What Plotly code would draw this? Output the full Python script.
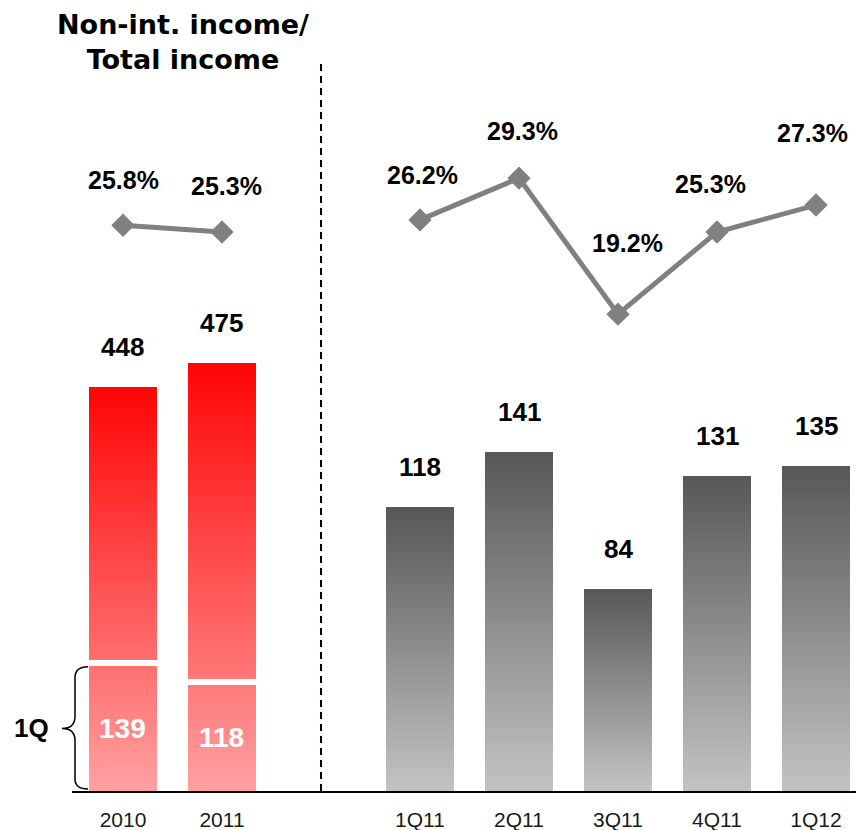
import plotly.graph_objects as go

# ---------------- data ----------------
annual_labels = ["2010", "2011"]
annual_total = [448, 475]
annual_1q = [139, 118]
annual_ratio = [25.8, 25.3]

quarter_labels = ["1Q11", "2Q11", "3Q11", "4Q11", "1Q12"]
quarter_income = [118, 141, 84, 131, 135]
quarter_ratio = [26.2, 29.3, 19.2, 25.3, 27.3]

title_text = "Non-int. income/<br>Total income"
bracket_text = "1Q"

# ---------------- layout helpers ----------------
FONT = "Liberation Sans, Arial, sans-serif"
ax_annual = list(range(len(annual_labels)))                       # slots 0,1
ax_quarter = [len(annual_labels) + 1 + i for i in range(len(quarter_labels))]  # slots 3..7
sep_x = len(annual_labels)                                        # empty slot 2

L, R, T, B = 72, 0, 60, 39
W, H = 856, 830
plot_h = H - T - B
annual_max = plot_h / 0.901
quarter_max = plot_h / 2.405
ratio_range = [-16.2, 38.07]
BAR_W = 0.68


def lerp(c1, c2, t):
    return "rgb(%d,%d,%d)" % tuple(round(a + (b - a) * t) for a, b in zip(c1, c2))


N = 70
red_top, red_bot = (255, 6, 6), (255, 162, 162)
gray_top, gray_bot = (88, 88, 88), (196, 196, 196)

fig = go.Figure()

# gradient annual bars (nested overlay bars)
for k in range(N):
    frac = 1 - k / N
    fig.add_trace(go.Bar(
        x=ax_annual, y=[v * frac for v in annual_total], width=BAR_W,
        marker=dict(color=lerp(red_bot, red_top, frac), line=dict(width=0)),
        yaxis="y", hoverinfo="skip", showlegend=False))
# white separator above 1Q part
fig.add_trace(go.Bar(
    x=ax_annual, y=[6.5] * len(annual_1q), base=annual_1q, width=BAR_W + 0.02,
    marker=dict(color="white", line=dict(width=0)),
    yaxis="y", hoverinfo="skip", showlegend=False))

# gradient quarterly bars
for k in range(N):
    frac = 1 - k / N
    fig.add_trace(go.Bar(
        x=ax_quarter, y=[v * frac for v in quarter_income], width=BAR_W,
        marker=dict(color=lerp(gray_bot, gray_top, frac), line=dict(width=0)),
        yaxis="y2", hoverinfo="skip", showlegend=False))

# ratio lines
line_style = dict(color="#808080", width=5)
marker_style = dict(symbol="diamond", size=18, color="#808080")
fig.add_trace(go.Scatter(x=ax_annual, y=annual_ratio, mode="lines+markers",
                         line=line_style, marker=marker_style, yaxis="y3",
                         showlegend=False, hoverinfo="skip"))
fig.add_trace(go.Scatter(x=ax_quarter, y=quarter_ratio, mode="lines+markers",
                         line=line_style, marker=marker_style, yaxis="y3",
                         showlegend=False, hoverinfo="skip"))

annotations = []
val_font = dict(family=FONT, size=26, color="black")
pct_font = dict(family=FONT, size=25, color="black")
# bar value labels
for x, v in zip(ax_annual, annual_total):
    annotations.append(dict(x=x, y=v, xref="x", yref="y", text=f"<b>{v}</b>",
                            showarrow=False, font=val_font, yanchor="middle", yshift=40))
for x, v in zip(ax_quarter, quarter_income):
    annotations.append(dict(x=x, y=v, xref="x", yref="y2", text=f"<b>{v}</b>",
                            showarrow=False, font=val_font, yanchor="middle", yshift=40))
# 1Q labels inside annual bars
for x, v in zip(ax_annual, annual_1q):
    annotations.append(dict(x=x, y=v / 2, xref="x", yref="y", text=f"<b>{v}</b>",
                            showarrow=False, yanchor="middle",
                            font=dict(family=FONT, size=28, color="white")))
# ratio labels
pct_shift = [(1, 45), (5, 46)]
pct_shift_q = [(3, 45), (3, 47), (9, 71), (-7, 48), (-4, 72)]
for (x, v), (dx, dy) in zip(zip(ax_annual, annual_ratio), pct_shift):
    annotations.append(dict(x=x, y=v, xref="x", yref="y3", text=f"<b>{v:.1f}%</b>",
                            showarrow=False, font=pct_font, yanchor="middle",
                            xshift=dx, yshift=dy))
for (x, v), (dx, dy) in zip(zip(ax_quarter, quarter_ratio), pct_shift_q):
    annotations.append(dict(x=x, y=v, xref="x", yref="y3", text=f"<b>{v:.1f}%</b>",
                            showarrow=False, font=pct_font, yanchor="middle",
                            xshift=dx, yshift=dy))
# title
annotations.append(dict(x=(183 - L) / (W - L - R), y=(H - B - 41.5) / plot_h,
                        xref="paper", yref="paper", text=f"<b>{title_text}</b>",
                        showarrow=False, xanchor="center", yanchor="middle",
                        font=dict(family="DejaVu Sans, " + FONT, size=27, color="black")))
# 1Q bracket label
annotations.append(dict(x=(31 - L) / (W - L - R), y=annual_1q[0] / 2 / annual_max,
                        xref="paper", yref="paper", text=f"<b>{bracket_text}</b>",
                        showarrow=False, xanchor="center", yanchor="middle",
                        font=dict(family=FONT, size=26, color="black")))

# brace shape
pw = W - L - R


def px(p):
    return (p - L) / pw


top = annual_1q[0] / annual_max
bot = 0.0
mid = (top + bot) / 2
d = 12 / plot_h
brace = (f"M {px(88)},{top - 1/plot_h} "
         f"Q {px(75)},{top - 1/plot_h} {px(75)},{top - d} "
         f"L {px(75)},{mid + d} "
         f"Q {px(75)},{mid} {px(62)},{mid} "
         f"Q {px(75)},{mid} {px(75)},{mid - d} "
         f"L {px(75)},{bot + d} "
         f"Q {px(75)},{bot + 2/plot_h} {px(88)},{bot + 2/plot_h}")
shapes = [
    dict(type="path", xref="paper", yref="paper", path=brace,
         line=dict(color="black", width=1.5)),
    dict(type="line", xref="x", yref="paper", x0=sep_x, x1=sep_x,
         y0=0, y1=(H - B - 62) / plot_h,
         line=dict(color="black", width=2, dash="7px,5px")),
]

fig.update_layout(
    width=W, height=H,
    margin=dict(l=L, r=R, t=T, b=B),
    paper_bgcolor="white", plot_bgcolor="white",
    barmode="overlay", bargap=0,
    showlegend=False,
    xaxis=dict(range=[-0.515, 7.404], tickvals=ax_annual + ax_quarter,
               ticktext=annual_labels + quarter_labels, showgrid=False,
               zeroline=False, showline=True, linecolor="black", linewidth=2,
               ticks="", ticklabelstandoff=9,
               tickfont=dict(family=FONT, size=21, color="#1a1a1a")),
    yaxis=dict(range=[0, annual_max], visible=False, showgrid=False),
    yaxis2=dict(range=[0, quarter_max], visible=False, overlaying="y",
                showgrid=False),
    yaxis3=dict(range=ratio_range, visible=False, overlaying="y",
                showgrid=False),
    annotations=annotations,
    shapes=shapes,
)

fig.write_html("out.html", config={"displayModeBar": False},
               post_script="document.body.style.margin='0px';document.body.style.overflow='hidden';")
